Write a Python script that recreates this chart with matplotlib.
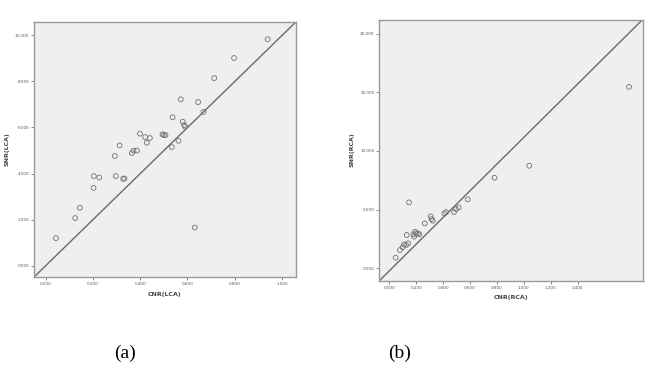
import matplotlib
matplotlib.use('Agg')
import matplotlib.pyplot as plt

# (a) LCA
cnr_lca = [0.044, 0.125, 0.145, 0.204, 0.227, 0.203, 0.293, 0.297, 0.313, 0.328,
           0.334, 0.365, 0.372, 0.386, 0.399, 0.421, 0.428, 0.441, 0.494, 0.500,
           0.507, 0.534, 0.537, 0.562, 0.572, 0.580, 0.586, 0.590, 0.631, 0.645,
           0.668, 0.713, 0.797, 0.939]
snr_lca = [1.20, 2.07, 2.52, 3.89, 3.83, 3.38, 4.76, 3.89, 5.22, 3.77,
           3.79, 4.89, 4.99, 5.00, 5.73, 5.58, 5.34, 5.54, 5.70, 5.67,
           5.67, 5.15, 6.44, 5.42, 7.22, 6.25, 6.10, 6.03, 1.66, 7.10,
           6.67, 8.14, 9.01, 9.82]

# (b) RCA
cnr_rca = [0.047, 0.079, 0.099, 0.109, 0.124, 0.139, 0.129, 0.146, 0.179, 0.184,
           0.191, 0.199, 0.213, 0.223, 0.263, 0.308, 0.313, 0.323, 0.409, 0.422,
           0.481, 0.496, 0.516, 0.583, 0.782, 1.040, 1.782]
snr_rca = [0.91, 1.56, 1.79, 2.04, 1.99, 2.13, 2.84, 5.62, 2.89, 2.70,
           3.12, 2.98, 2.98, 2.89, 3.83, 4.43, 4.20, 4.06, 4.68, 4.79,
           4.79, 5.05, 5.19, 5.87, 7.72, 8.74, 15.46]

lca_xticks = [0.0, 0.2, 0.4, 0.6, 0.8, 1.0]
lca_yticks = [0, 2, 4, 6, 8, 10]
rca_xticks = [0.0, 0.2, 0.4, 0.6, 0.8, 1.0, 1.2, 1.4]
rca_yticks = [0, 5, 10, 15, 20]

fig = plt.figure(figsize=(6.53, 3.73), dpi=100)
fig.patch.set_facecolor('white')

bg = '#efefef'
frame = '#9a9a9a'


def scatter_panel(ax, x, y, xlim, ylim, xticks, yticks, xlabel, ylabel):
    ax.set_facecolor(bg)
    ax.scatter(x, y, s=12, facecolors='none', edgecolors='#707070', linewidths=0.6, zorder=3)
    # reference line corner to corner
    ax.plot([0, 1], [0, 1], transform=ax.transAxes, color='#6a6a6a', lw=1.0, zorder=2)
    ax.set_xlim(*xlim)
    ax.set_ylim(*ylim)
    ax.set_xticks(xticks)
    ax.set_yticks(yticks)
    ax.set_xticklabels([f'{t:.3f}' for t in xticks])
    ax.set_yticklabels([f'{t:.3f}' for t in yticks])
    ax.tick_params(labelsize=3, length=2, width=0.5, colors='#555555', pad=1.5)
    for sp in ax.spines.values():
        sp.set_color(frame)
        sp.set_linewidth(1.0)
    ax.set_xlabel(xlabel, fontsize=4.5, fontweight='bold', color='#444444', labelpad=4)
    ax.set_ylabel(ylabel, fontsize=4.5, fontweight='bold', color='#444444', labelpad=4)


ax1 = fig.add_axes([0.052, 0.257, 0.401, 0.684])
scatter_panel(ax1, cnr_lca, snr_lca, (-0.049, 1.058), (-0.49, 10.57),
              lca_xticks, lca_yticks, 'CNR(LCA)', 'SNR(LCA)')

ax2 = fig.add_axes([0.581, 0.2475, 0.403, 0.70])
scatter_panel(ax2, cnr_rca, snr_rca, (-0.074, 1.883), (-1.05, 21.19),
              rca_xticks, rca_yticks, 'CNR(RCA)', 'SNR(RCA)')

fig.text(125 / 653, 1 - 353 / 373, '(a)', ha='center', va='center',
         fontsize=14, family='Liberation Serif')
fig.text(400 / 653, 1 - 353 / 373, '(b)', ha='center', va='center',
         fontsize=14, family='Liberation Serif')

fig.savefig('out.png', dpi=100)
